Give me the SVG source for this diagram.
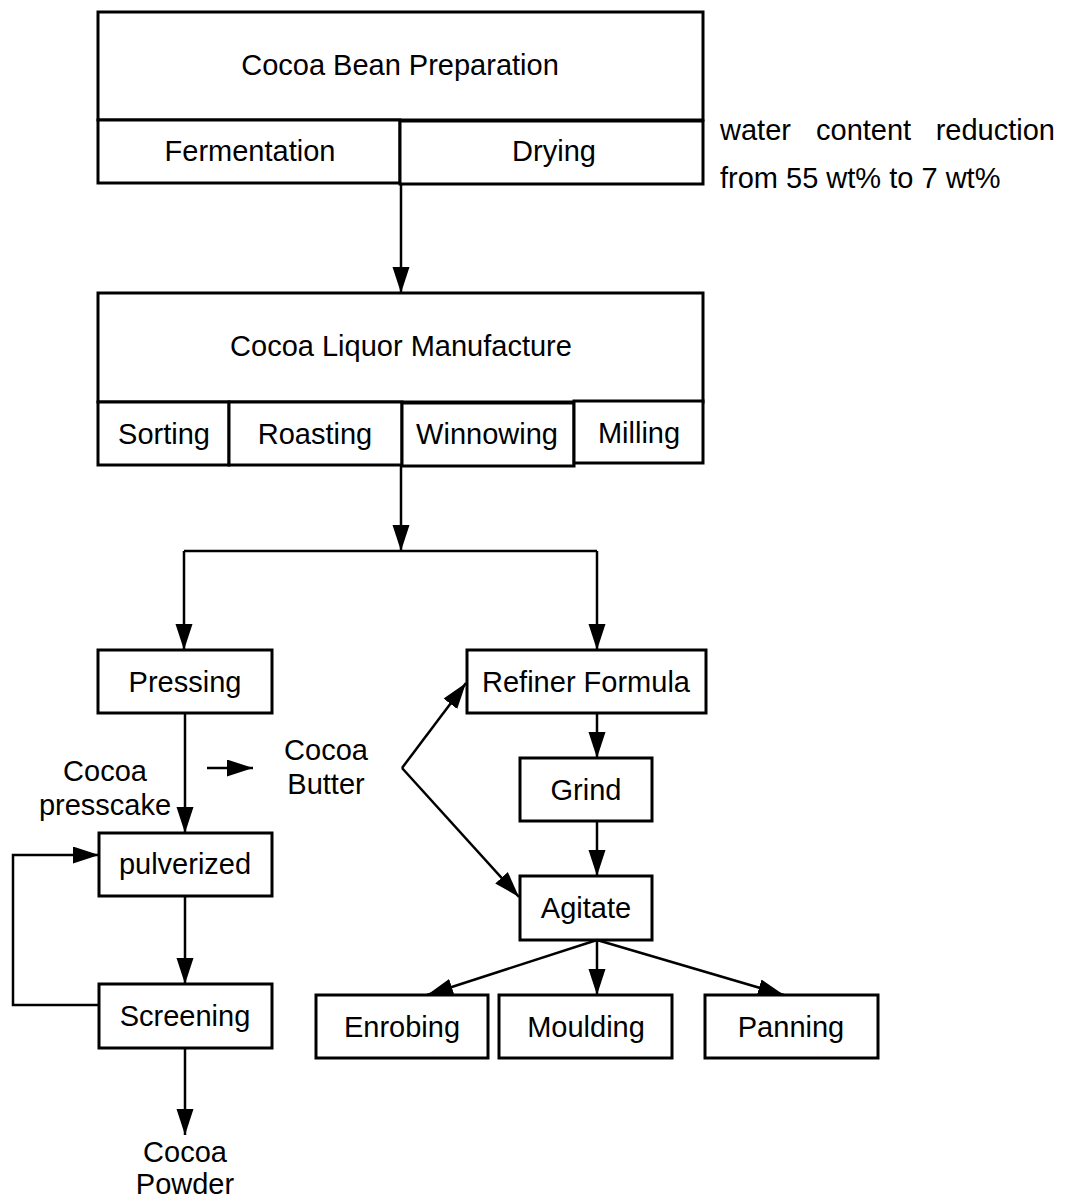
<svg xmlns="http://www.w3.org/2000/svg" width="1069" height="1198" viewBox="0 0 1069 1198">
  <style>
    .box { fill: #fff; stroke: #000; stroke-width: 3; }
    .lbl { font-family: "Liberation Sans", Arial, sans-serif; font-size: 29px; fill: #000; text-anchor: middle; }
    .note { font-family: "Liberation Sans", Arial, sans-serif; font-size: 29px; fill: #000; }
    .edge { fill: none; stroke: #000; stroke-width: 2.5; }
  </style>
  <defs>
    <marker id="arrow" markerUnits="userSpaceOnUse" markerWidth="27" markerHeight="18" refX="26" refY="8.5" orient="auto">
      <path d="M0,0 L26,8.5 L0,17 z" fill="#000"/>
    </marker>
  </defs>
  <rect width="1069" height="1198" fill="#fff"/>

  <!-- Stage 1: bean preparation -->
  <g id="bean-preparation">
    <rect class="box" x="98" y="12" width="605" height="108"/>
    <text class="lbl" x="400" y="75">Cocoa Bean Preparation</text>
  </g>
  <g id="fermentation">
    <rect class="box" x="98" y="120" width="302" height="63"/>
    <text class="lbl" x="250" y="161">Fermentation</text>
  </g>
  <g id="drying">
    <rect class="box" x="400" y="121" width="303" height="63"/>
    <text class="lbl" x="554" y="161">Drying</text>
  </g>
  <g id="drying-note">
    <text class="note" x="720" y="140">water</text>
    <text class="note" x="816" y="140">content</text>
    <text class="note" x="1055" y="140" text-anchor="end">reduction</text>
    <text class="note" x="720" y="188">from 55 wt% to 7 wt%</text>
  </g>

  <!-- Stage 2: liquor manufacture -->
  <g id="liquor-manufacture">
    <rect class="box" x="98" y="293" width="605" height="109"/>
    <text class="lbl" x="401" y="356">Cocoa Liquor Manufacture</text>
  </g>
  <g id="sorting">
    <rect class="box" x="98" y="402" width="131" height="63"/>
    <text class="lbl" x="164" y="444">Sorting</text>
  </g>
  <g id="roasting">
    <rect class="box" x="229" y="402" width="173" height="63"/>
    <text class="lbl" x="315" y="444">Roasting</text>
  </g>
  <g id="winnowing">
    <rect class="box" x="402" y="403" width="172" height="63"/>
    <text class="lbl" x="487" y="444">Winnowing</text>
  </g>
  <g id="milling">
    <rect class="box" x="574" y="401" width="129" height="62"/>
    <text class="lbl" x="639" y="443">Milling</text>
  </g>

  <!-- Powder branch -->
  <g id="pressing">
    <rect class="box" x="98" y="650" width="174" height="63"/>
    <text class="lbl" x="185" y="692">Pressing</text>
  </g>
  <g id="pulverized">
    <rect class="box" x="99" y="833" width="173" height="63"/>
    <text class="lbl" x="185" y="874">pulverized</text>
  </g>
  <g id="screening">
    <rect class="box" x="99" y="984" width="173" height="64"/>
    <text class="lbl" x="185" y="1026">Screening</text>
  </g>
  <g id="cocoa-presscake">
    <text class="lbl" x="105" y="781">Cocoa</text>
    <text class="lbl" x="105" y="815">presscake</text>
  </g>
  <g id="cocoa-butter">
    <text class="lbl" x="326" y="760">Cocoa</text>
    <text class="lbl" x="326" y="794">Butter</text>
  </g>
  <g id="cocoa-powder">
    <text class="lbl" x="185" y="1162">Cocoa</text>
    <text class="lbl" x="185" y="1194">Powder</text>
  </g>

  <!-- Chocolate branch -->
  <g id="refiner-formula">
    <rect class="box" x="467" y="650" width="239" height="63"/>
    <text class="lbl" x="586" y="692">Refiner Formula</text>
  </g>
  <g id="grind">
    <rect class="box" x="520" y="758" width="132" height="63"/>
    <text class="lbl" x="586" y="800">Grind</text>
  </g>
  <g id="agitate">
    <rect class="box" x="520" y="876" width="132" height="64"/>
    <text class="lbl" x="586" y="918">Agitate</text>
  </g>
  <g id="enrobing">
    <rect class="box" x="316" y="995" width="172" height="63"/>
    <text class="lbl" x="402" y="1037">Enrobing</text>
  </g>
  <g id="moulding">
    <rect class="box" x="499" y="995" width="173" height="63"/>
    <text class="lbl" x="586" y="1037">Moulding</text>
  </g>
  <g id="panning">
    <rect class="box" x="705" y="995" width="173" height="63"/>
    <text class="lbl" x="791" y="1037">Panning</text>
  </g>

  <!-- Connectors -->
  <g id="connectors">
    <line class="edge" x1="401" y1="184" x2="401" y2="293" marker-end="url(#arrow)"/>
    <line class="edge" x1="401" y1="465" x2="401" y2="551" marker-end="url(#arrow)"/>
    <polyline class="edge" points="184,551 597,551"/>
    <line class="edge" x1="184" y1="551" x2="184" y2="650" marker-end="url(#arrow)"/>
    <line class="edge" x1="597" y1="551" x2="597" y2="650" marker-end="url(#arrow)"/>
    <line class="edge" x1="185" y1="713" x2="185" y2="833" marker-end="url(#arrow)"/>
    <line class="edge" x1="207" y1="768" x2="253" y2="768" marker-end="url(#arrow)"/>
    <line class="edge" x1="185" y1="896" x2="185" y2="984" marker-end="url(#arrow)"/>
    <polyline class="edge" points="99,1005 13,1005 13,855 99,855" marker-end="url(#arrow)"/>
    <line class="edge" x1="185" y1="1048" x2="185" y2="1135" marker-end="url(#arrow)"/>
    <line class="edge" x1="402" y1="768" x2="466" y2="683" marker-end="url(#arrow)"/>
    <line class="edge" x1="402" y1="768" x2="519" y2="897" marker-end="url(#arrow)"/>
    <line class="edge" x1="597" y1="713" x2="597" y2="758" marker-end="url(#arrow)"/>
    <line class="edge" x1="597" y1="821" x2="597" y2="876" marker-end="url(#arrow)"/>
    <line class="edge" x1="597" y1="940" x2="427" y2="995" marker-end="url(#arrow)"/>
    <line class="edge" x1="597" y1="940" x2="597" y2="995" marker-end="url(#arrow)"/>
    <line class="edge" x1="597" y1="940" x2="784" y2="995" marker-end="url(#arrow)"/>
  </g>
</svg>
